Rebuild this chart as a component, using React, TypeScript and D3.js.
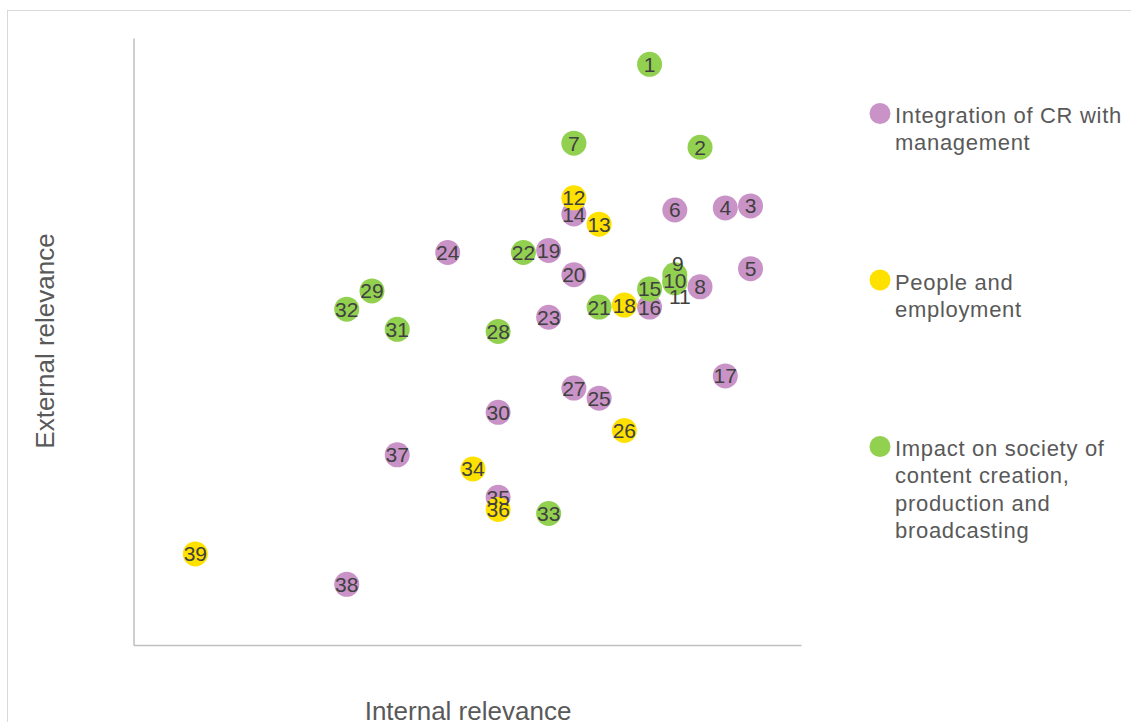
import React, { useEffect, useRef } from "react";
import * as d3 from "d3";

// topic numbers and their scores
const topicIds = [
  1, 2, 3, 4, 5, 6, 7, 8, 9, 10, 11, 12, 13, 14, 15, 16, 17, 18, 19, 20,
  21, 22, 23, 24, 25, 26, 27, 28, 29, 30, 31, 32, 33, 34, 35, 36, 37, 38, 39,
];
const internalRelevance = [
  3.8, 4.0, 4.2, 4.1, 4.2, 3.9, 3.5, 4.0, 3.9, 3.9, 3.9, 3.5, 3.6, 3.5, 3.8,
  3.8, 4.1, 3.7, 3.4, 3.5, 3.6, 3.3, 3.4, 3.0, 3.6, 3.7, 3.5, 3.2, 2.7, 3.2,
  2.8, 2.6, 3.4, 3.1, 3.2, 3.2, 2.8, 2.6, 2.0,
];
const externalRelevance = [
  4.37, 3.96, 3.67, 3.66, 3.36, 3.65, 3.98, 3.27, 3.33, 3.3, 3.29, 3.71, 3.58,
  3.63, 3.26, 3.17, 2.83, 3.18, 3.45, 3.33, 3.17, 3.44, 3.12, 3.44, 2.72, 2.56,
  2.77, 3.05, 3.25, 2.65, 3.06, 3.16, 2.15, 2.37, 2.23, 2.17, 2.44, 1.8, 1.95,
];
// 0 = integration, 1 = people, 2 = impact
const topicGroup = [
  2, 2, 0, 0, 0, 0, 2, 0, 2, 2, 2, 1, 1, 0, 2, 0, 0, 1, 0, 0, 2, 2, 0, 0, 0,
  1, 0, 2, 2, 0, 2, 2, 2, 1, 0, 1, 0, 0, 1,
];
const seriesNames = [
  ["Integration of CR with", "management"],
  ["People and", "employment"],
  ["Impact on society of", "content creation,", "production and", "broadcasting"],
];
const seriesColors = ["#c993c7", "#ffe100", "#92d050"];

// labels that were pushed apart in the original
const labelNudge: Record<number, [number, number]> = {
  9: [3, -11],
  11: [5, 14],
};

const W = 1131;
const H = 722;
const FONT = "'Liberation Sans', Arial, sans-serif";

export default function App() {
  const svgRef = useRef<SVGSVGElement>(null);

  useEffect(() => {
    const svg = d3.select(svgRef.current);
    svg.selectAll("*").remove();

    const x = d3.scaleLinear().domain([1.755, 4.4]).range([133.5, 801]);
    const y = d3.scaleLinear().domain([1.5, 4.5]).range([645, 38]);

    // outer chart frame (runs off the picture on right/bottom)
    svg
      .append("rect")
      .attr("x", 7.5)
      .attr("y", 10.5)
      .attr("width", 1300)
      .attr("height", 900)
      .attr("fill", "none")
      .attr("stroke", "#d9d9d9");

    const xAxis = svg
      .append("g")
      .attr("transform", `translate(0,${y.range()[0]})`)
      .call(d3.axisBottom(x).ticks(0).tickSize(0).tickSizeOuter(0));
    const yAxis = svg
      .append("g")
      .attr("transform", `translate(${x.range()[0]},0)`)
      .call(d3.axisLeft(y).ticks(0).tickSize(0).tickSizeOuter(0));
    [xAxis, yAxis].forEach((a) => {
      a.select(".domain").attr("stroke", "#bfbfbf").attr("stroke-width", 1.5);
      a.selectAll(".tick").remove();
    });

    const points = topicIds
      .map((id, i) => ({
        id,
        x: internalRelevance[i],
        y: externalRelevance[i],
        g: topicGroup[i],
      }))
      .sort((a, b) => a.g - b.g || a.id - b.id);

    svg
      .append("g")
      .selectAll("circle")
      .data(points)
      .join("circle")
      .attr("cx", (d) => x(d.x))
      .attr("cy", (d) => y(d.y))
      .attr("r", 12.5)
      .attr("fill", (d) => seriesColors[d.g]);

    svg
      .append("g")
      .selectAll("text")
      .data(points)
      .join("text")
      .attr("x", (d) => x(d.x) + (labelNudge[d.id]?.[0] ?? 0))
      .attr("y", (d) => y(d.y) + (labelNudge[d.id]?.[1] ?? 0) + 7.5)
      .attr("text-anchor", "middle")
      .attr("font-family", FONT)
      .attr("font-size", 21)
      .attr("fill", "#404040")
      .text((d) => d.id);

    // legend
    const legend = svg.append("g");
    seriesNames.forEach((lines, i) => {
      const top = 115 + i * 166.5;
      legend
        .append("circle")
        .attr("cx", 880)
        .attr("cy", top - 1.5)
        .attr("r", 10.5)
        .attr("fill", seriesColors[i]);
      legend
        .append("text")
        .attr("font-family", FONT)
        .attr("font-size", 22)
        .attr("letter-spacing", 0.7)
        .attr("fill", "#595959")
        .selectAll("tspan")
        .data(lines)
        .join("tspan")
        .attr("x", 895)
        .attr("y", (_, j) => top + j * 27.3 + 8)
        .text((t) => t);
    });

    // axis titles
    svg
      .append("text")
      .attr("x", 468)
      .attr("y", 720)
      .attr("text-anchor", "middle")
      .attr("font-family", FONT)
      .attr("font-size", 26)
      .attr("fill", "#595959")
      .text("Internal relevance");
    svg
      .append("text")
      .attr("transform", "translate(54,341) rotate(-90)")
      .attr("text-anchor", "middle")
      .attr("font-family", FONT)
      .attr("font-size", 26)
      .attr("fill", "#595959")
      .text("External relevance");
  }, []);

  return (
    <div style={{ position: "absolute", left: 0, top: 0 }}>
      <svg ref={svgRef} width={W} height={H} style={{ display: "block", background: "#fff" }} />
    </div>
  );
}
